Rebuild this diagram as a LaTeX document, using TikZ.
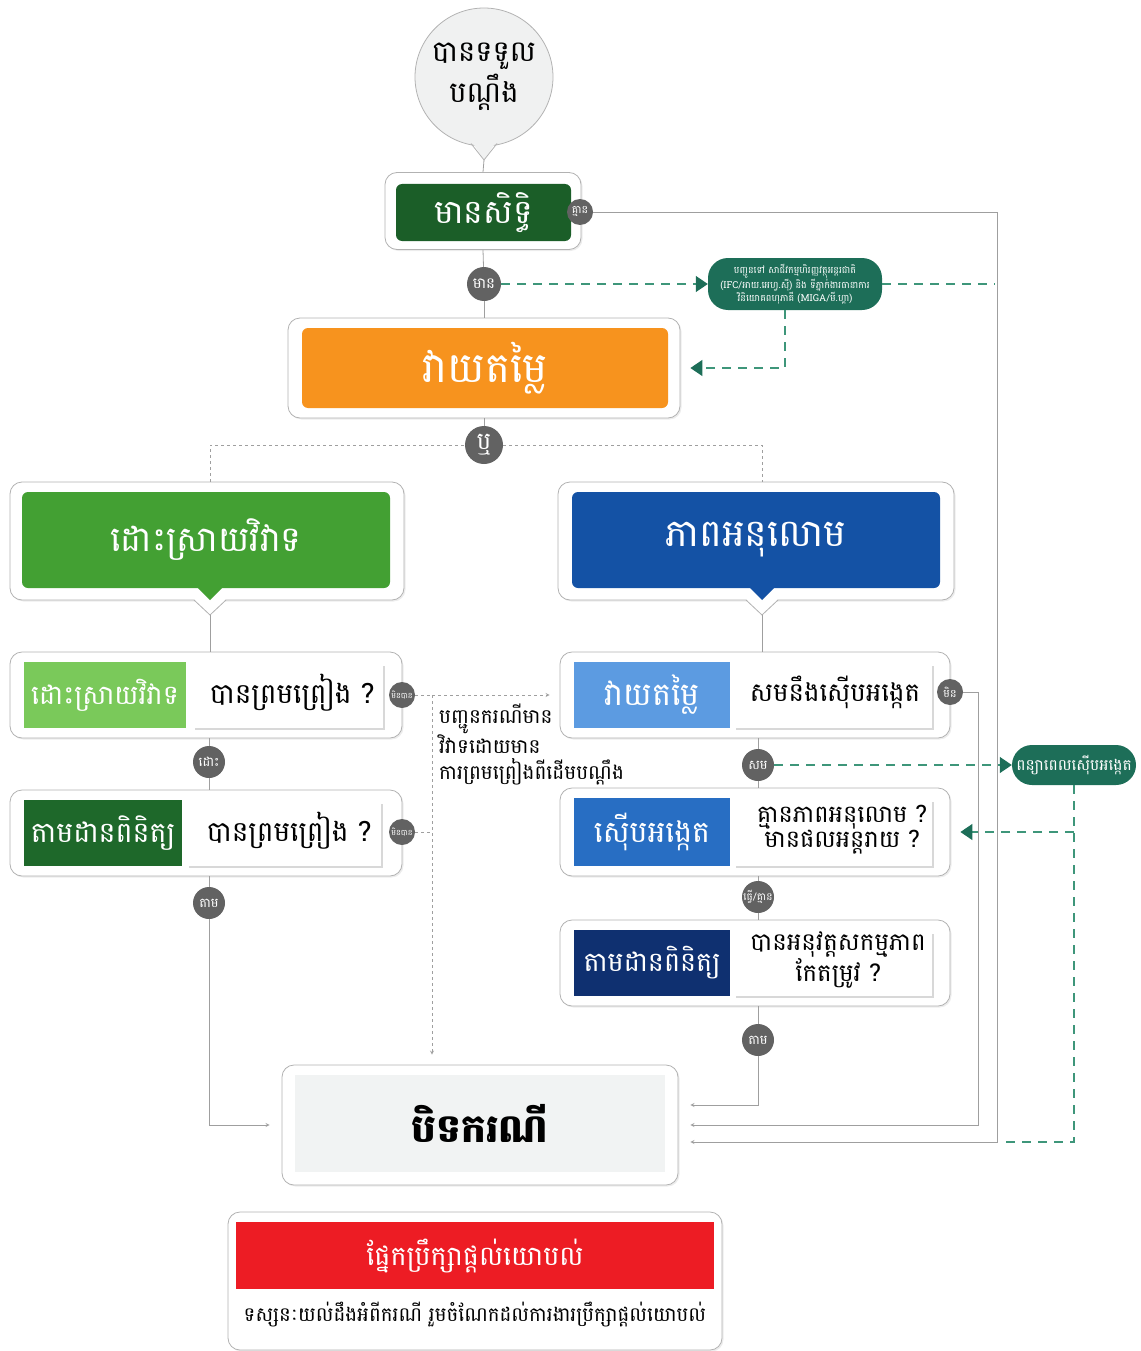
\documentclass[tikz,border=0pt]{standalone}
\usepackage{fontspec}
\newfontfamily\km[Script=Khmer]{Battambang}
\usetikzlibrary{arrows.meta,calc,shadows}

\definecolor{circfill}{RGB}{240,241,241}
\definecolor{rightgreen}{RGB}{27,94,40}
\definecolor{evalorange}{RGB}{247,147,30}
\definecolor{dispgreen}{RGB}{67,160,51}
\definecolor{compblue}{RGB}{20,82,165}
\definecolor{taglight}{RGB}{122,201,90}
\definecolor{tagdark}{RGB}{30,104,42}
\definecolor{tagsky}{RGB}{92,155,225}
\definecolor{tagblue}{RGB}{40,110,195}
\definecolor{tagnavy}{RGB}{15,48,112}
\definecolor{pillteal}{RGB}{29,110,88}
\definecolor{bubgray}{RGB}{98,98,98}
\definecolor{dashgreen}{RGB}{62,150,122}
\definecolor{closedfill}{RGB}{241,243,243}
\definecolor{advred}{RGB}{237,28,36}

\begin{document}
\begin{tikzpicture}[
    x=1pt, y=-1pt,
    font=\km,
    outer/.style={draw=gray!60, fill=white, rounded corners=12pt, line width=0.8pt, drop shadow={shadow xshift=1.5pt, shadow yshift=-1.5pt, opacity=0.15}},
    inner/.style={rounded corners=6pt, text=white, inner sep=0pt},
    tag/.style={text=white, inner sep=0pt, font=\km\fontsize{27}{30}\selectfont},
    panel/.style={fill=white, inner sep=0pt, drop shadow={shadow xshift=2pt, shadow yshift=-2pt, opacity=0.3}},
    ask/.style={text=black, align=center, font=\km\fontsize{28}{28}\selectfont},
    bub/.style={circle, fill=bubgray, text=white, inner sep=0pt, minimum size=28pt, font=\km\fontsize{12}{12}\selectfont},
    pill/.style={fill=pillteal, text=white, rounded corners=20pt, inner sep=0pt, align=center},
    conn/.style={draw=gray!75, line width=0.8pt},
    arrow/.style={conn, ->, >=stealth},
    gdash/.style={draw=gray!75, line width=0.8pt, dashed},
    kdash/.style={draw=dashgreen, line width=1.2pt, dash pattern=on 9pt off 7pt},
    karrow/.style={kdash, -{Triangle[length=12pt, width=16pt, color=pillteal, fill=pillteal, sep=0pt]}}
]
\useasboundingbox (0,0) rectangle (1140,1351);

% top of the chart
\node[circle, draw=gray!60, line width=0.8pt, fill=circfill, minimum size=138pt, align=center, font=\km\fontsize{29}{41}\selectfont] (recv) at (484,77) {បានទទួល\\បណ្ដឹង};
\fill[circfill] (472,142) -- (496,142) -- (484,160) -- cycle;
\draw[gray!60, line width=0.8pt] (471,143.5) -- (484,160) -- (497,143.5);

\node[outer, minimum width=196pt, minimum height=77pt] (right) at (483,211) {};
\node[inner, fill=rightgreen, minimum width=175pt, minimum height=57pt, font=\km\fontsize{33}{33}\selectfont] (righttag) at (483.5,212.5) {មានសិទ្ធិ};
\node[bub, minimum size=26pt, font=\km\fontsize{11}{11}\selectfont] (nobub) at (580,212) {គ្មាន};

\node[bub, minimum size=34pt, font=\km\fontsize{15}{15}\selectfont] (havebub) at (484,284) {មាន};
\node[pill, minimum width=174pt, minimum height=52pt, font=\km\fontsize{9.5}{12.5}\selectfont] (refer) at (795,284) {បញ្ជូនទៅ សាជីវកម្មហិរញ្ញវត្ថុអន្តរជាតិ\\(IFC/អាយ.អេហ្វ.ស៊ី) និង ទីភ្នាក់ងារធានាការ\\វិនិយោគពហុភាគី (MIGA/មី.ហ្គា)};

\node[outer, minimum width=392pt, minimum height=100pt] (eval) at (484,368) {};
\node[inner, fill=evalorange, minimum width=366pt, minimum height=80pt, font=\km\fontsize{42}{42}\selectfont] (evaltag) at (485,368) {វាយតម្លៃ};
\coordinate (orpt) at (484,445);

% two tracks
\node[outer, minimum width=394pt, minimum height=118pt] (disp) at (207,541) {};
\fill[white] (193,598) -- (227,598) -- (210,615) -- cycle;
\draw[gray!60, line width=0.8pt] (194,600) -- (210,615) -- (226,600);
\node[inner, fill=dispgreen, minimum width=368pt, minimum height=96pt, font=\km\fontsize{35}{35}\selectfont] (disptag) at (206,540) {ដោះស្រាយវិវាទ};
\fill[dispgreen] (197,587) -- (223,587) -- (210,600) -- cycle;

\node[outer, minimum width=396pt, minimum height=118pt] (comp) at (756,541) {};
\fill[white] (745,598) -- (779,598) -- (762,615) -- cycle;
\draw[gray!60, line width=0.8pt] (746,600) -- (762,615) -- (778,600);
\node[inner, fill=compblue, minimum width=368pt, minimum height=96pt, font=\km\fontsize{38}{38}\selectfont] (comptag) at (756,540) {ភាពអនុលោម};
\fill[compblue] (749,587) -- (775,587) -- (762,600) -- cycle;

\coordinate (disptip) at (210,615);
\coordinate (comptip) at (762,615);

% dispute resolution steps
\node[outer, minimum width=392pt, minimum height=86pt] (dq1) at (206,695) {};
\node[panel, minimum width=190pt, minimum height=64pt] at (288,696) {};
\node[tag, fill=taglight, minimum width=162pt, minimum height=66pt] (dq1tag) at (105,695) {ដោះស្រាយវិវាទ};
\node[ask] (dq1ask) at (292,693) {បានព្រមព្រៀង ?};
\node[bub, minimum size=26pt, font=\km\fontsize{8}{8}\selectfont] (nag1) at (402,695) {មិនបាន};

\node[outer, minimum width=392pt, minimum height=86pt] (dq2) at (206,833) {};
\node[panel, minimum width=194pt, minimum height=64pt] at (284,834) {};
\node[tag, fill=tagdark, minimum width=158pt, minimum height=66pt, font=\km\fontsize{28.5}{30}\selectfont] (dq2tag) at (103,833) {តាមដានពិនិត្យ};
\node[ask] (dq2ask) at (289,831) {បានព្រមព្រៀង ?};
\node[bub, minimum size=26pt, font=\km\fontsize{8}{8}\selectfont] (nag2) at (402,832) {មិនបាន};

\node[bub, minimum size=32pt, font=\km\fontsize{13}{13}\selectfont] (settle) at (209,762) {ដោះ};
\node[bub, minimum size=32pt, font=\km\fontsize{13}{13}\selectfont] (follow) at (209,903) {តាម};

\coordinate (split) at (432,695);
\node[anchor=north west, align=left, inner sep=0pt, font=\km\fontsize{20}{25.5}\selectfont] (note) at (439,704) {បញ្ជូនករណីមាន\\វិវាទដោយមាន\\ការព្រមព្រៀងពីដើមបណ្ដឹង};

% compliance steps
\node[outer, minimum width=390pt, minimum height=86pt] (cq1) at (755,695) {};
\node[panel, minimum width=198pt, minimum height=64pt] at (833,696) {};
\node[tag, fill=tagsky, minimum width=156pt, minimum height=66pt, font=\km\fontsize{32}{32}\selectfont] (cq1tag) at (652,695) {វាយតម្លៃ};
\node[ask, font=\km\fontsize{26}{26}\selectfont] (cq1ask) at (835,692) {សមនឹងស៊ើបអង្កេត};
\node[bub, minimum size=26pt, font=\km\fontsize{11}{11}\selectfont] (notfit) at (950,692) {មិន};

\node[outer, minimum width=390pt, minimum height=88pt] (cq2) at (755,832) {};
\node[panel, minimum width=198pt, minimum height=66pt] at (833,833) {};
\node[tag, fill=tagblue, minimum width=156pt, minimum height=68pt, font=\km\fontsize{30}{30}\selectfont] (cq2tag) at (652,832) {ស៊ើបអង្កេត};
\node[ask, font=\km\fontsize{24}{25}\selectfont] (cq2ask) at (842,830) {គ្មានភាពអនុលោម ?\\មានផលអន្តរាយ ?};

\node[outer, minimum width=390pt, minimum height=86pt] (cq3) at (755,963) {};
\node[panel, minimum width=198pt, minimum height=64pt] at (833,964) {};
\node[tag, fill=tagnavy, minimum width=156pt, minimum height=66pt] (cq3tag) at (652,963) {តាមដានពិនិត្យ};
\node[ask, font=\km\fontsize{24.5}{24}\selectfont] (cq3ask) at (838,960) {បានអនុវត្តសកម្មភាព\\កែតម្រូវ ?};

\node[bub, minimum size=32pt, font=\km\fontsize{13}{13}\selectfont] (fitbub) at (758,765) {សម};
\node[bub, minimum size=32pt, font=\km\fontsize{10.5}{10.5}\selectfont] (dobub) at (758,897) {ធ្វើ/គ្មាន};
\node[bub, minimum size=32pt, font=\km\fontsize{13}{13}\selectfont] (trackbub) at (758,1040) {តាម};
\node[pill, minimum width=124pt, minimum height=40pt, font=\km\fontsize{15.5}{15.5}\selectfont] (delay) at (1074,765) {ពន្យាពេលស៊ើបអង្កេត};

% end of the chart
\node[outer, minimum width=396pt, minimum height=120pt] (closed) at (480,1125) {};
\node[fill=closedfill, minimum width=370pt, minimum height=97pt, font=\km\bfseries\fontsize{39}{39}\selectfont] (closedtag) at (480,1123) {បិទករណី};

\node[outer, minimum width=494pt, minimum height=138pt] (adv) at (475,1281) {};
\node[fill=advred, text=white, minimum width=478pt, minimum height=67pt, font=\km\fontsize{27}{27}\selectfont] (advtag) at (475,1255.5) {ផ្នែកប្រឹក្សាផ្ដល់យោបល់};
\node[font=\km\fontsize{19.8}{20}\selectfont] (advnote) at (475,1315) {ទស្សនៈយល់ដឹងអំពីករណី រួមចំណែកដល់ការងារប្រឹក្សាផ្ដល់យោបល់};

% Arrows
\draw[conn] (recv.south |- 0,160) -- (right.north);
\draw[conn] (right.south) -- (havebub);
\draw[conn] (havebub) -- (eval.north);
\draw[conn] (eval.south) -- (orpt);
\draw[gdash] (disp.north -| disptip) -- (210,445) -- (762,445) -- (comp.north -| comptip);
\node[bub, minimum size=38pt, font=\km\fontsize{24}{24}\selectfont] (orbub) at (orpt) {ឬ};

\draw[arrow] (nobub.east) -- (997,212) |- ([xshift=12pt, yshift=-17pt]closed.east);
\draw[karrow] (havebub.east) -- (refer.west);
\draw[kdash] (refer.east) -- (995,284);
\draw[karrow] (refer.south -| 785,0) -- (785,368) -- ([xshift=10pt]eval.east);

\draw[conn] (disptip) -- (dq1.north -| disptip);
\draw[conn] (dq1.south -| settle) -- (settle) -- (dq2.north -| settle);
\draw[arrow] (dq2.south -| follow) -- (follow) |- ([xshift=-12pt]closed.west);
\draw[gdash] (nag1.east) -- (split);
\draw[gdash, ->, >=stealth, shorten >=10pt] (split) -- (cq1.west |- split);
\draw[gdash, ->, >=stealth, shorten >=10pt] (split) -- (split |- closed.north);
\draw[gdash] (nag2.east) -- (split |- nag2);

\draw[conn] (comptip) -- (cq1.north -| comptip);
\draw[conn] (cq1.south -| fitbub) -- (fitbub) -- (cq2.north -| fitbub);
\draw[conn] (cq2.south -| dobub) -- (dobub) -- (cq3.north -| dobub);
\draw[arrow] (cq3.south -| trackbub) -- (trackbub) |- ([xshift=12pt, yshift=20pt]closed.east);
\draw[arrow] (notfit.east) -- (978,692) |- ([xshift=12pt]closed.east);
\draw[karrow] (fitbub.east) -- (delay.west);
\draw[kdash] (delay.south) -- (1074,1142) -- (1002,1142);
\draw[karrow] (1074,832) -- ([xshift=10pt]cq2.east);

\end{tikzpicture}
\end{document}
